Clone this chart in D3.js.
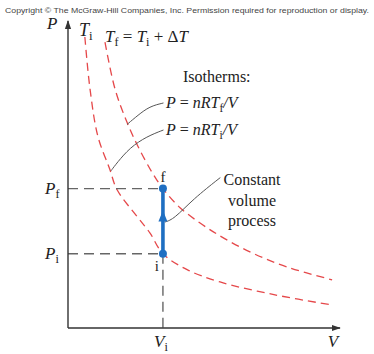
<!DOCTYPE html>
<html>
<head>
<meta charset="utf-8">
<script src="https://cdn.jsdelivr.net/npm/d3@7"></script>
<style>
  body { margin: 0; background: #fff; }
  svg { display: block; }
  .lbl { font-family: "Liberation Serif", "DejaVu Serif", serif; fill: #222; }
</style>
</head>
<body>
<svg id="chart"></svg>
<script>
// isotherm T_i, points (V, P in arbitrary units)
var isoTi = [
  [0.62, 9.48], [0.81, 7.78], [1.10, 6.24], [1.54, 5.16], [1.80, 4.51],
  [2.54, 3.63], [3.01, 3.10], [3.49, 2.42], [4.38, 1.90], [5.59, 1.50],
  [7.61, 1.08], [9.71, 0.75]
];
// isotherm T_f = T_i + dT
var isoTf = [
  [1.36, 9.31], [1.73, 7.78], [2.17, 6.70], [2.57, 5.92], [3.09, 5.07],
  [3.49, 4.54], [4.12, 3.92], [5.33, 3.14], [6.69, 2.48], [8.05, 1.99],
  [9.71, 1.57]
];
// states i and f (constant volume)
var Vi = 3.49;
var Pi = 2.42;
var Pf = 4.54;

// leader lines for the annotations
var leaderTf = [[3.51, 7.33], [3.00, 7.22], [2.57, 6.93], [2.17, 6.63]];
var leaderTi = [[3.51, 6.45], [2.90, 6.24], [2.28, 5.88], [1.80, 5.38], [1.58, 5.12]];
var leaderProc = [[5.60, 4.90], [4.60, 4.20], [3.90, 3.55], [3.56, 3.45]];

var canvasWidth = 374;
var canvasHeight = 354;
var svg = d3.select('#chart')
  .attr('width', canvasWidth)
  .attr('height', canvasHeight);

var xScale = d3.scaleLinear().domain([0, 10]).range([68, 340]);
var yScale = d3.scaleLinear().domain([0, 10]).range([328, 21]);

// small helper: text built from segments [string, 'i' italic | 'r' roman | 's' subscript]
function richText(x, y, size, segs, anchor) {
  var t = svg.append('text')
    .attr('class', 'lbl')
    .attr('x', x)
    .attr('y', y)
    .attr('font-size', size)
    .attr('text-anchor', anchor || 'start');
  var shift = 0;
  segs.forEach(function(s) {
    var sp = t.append('tspan').text(s[0]);
    if (s[1] == 'i') sp.attr('font-style', 'italic');
    if (s[1] == 's') {
      sp.attr('font-size', size * 0.72).attr('dy', 4 - shift);
      shift = 4;
    } else if (shift) {
      sp.attr('dy', -shift);
      shift = 0;
    }
  });
  return t;
}

// copyright line
svg.append('text')
  .attr('x', 5)
  .attr('y', 13)
  .attr('textLength', 364)
  .attr('lengthAdjust', 'spacingAndGlyphs')
  .attr('font-family', 'Liberation Sans, Arial, sans-serif')
  .attr('font-size', 7.8)
  .attr('fill', '#444')
  .text('Copyright \u00A9 The McGraw-Hill Companies, Inc. Permission required for reproduction or display.');

// arrow markers
var defs = svg.append('defs');
defs.append('marker')
  .attr('id', 'axisArrow')
  .attr('viewBox', '0 0 10 10')
  .attr('refX', 9).attr('refY', 5)
  .attr('markerWidth', 9).attr('markerHeight', 9)
  .attr('markerUnits', 'userSpaceOnUse')
  .attr('orient', 'auto')
  .append('path').attr('d', 'M0,1.5 L10,5 L0,8.5 Z').attr('fill', '#333');

// isotherms
var line = d3.line()
  .x(d => xScale(d[0]))
  .y(d => yScale(d[1]))
  .curve(d3.curveCatmullRom.alpha(0.5));

[isoTi, isoTf].forEach(function(pts) {
  svg.append('path')
    .attr('d', line(pts))
    .attr('fill', 'none')
    .attr('stroke', '#e5484a')
    .attr('stroke-width', 1.3)
    .attr('stroke-dasharray', '8,5');
});

// grey dashed guides
var guides = [
  [[0, Pf], [Vi, Pf]],
  [[0, Pi], [Vi, Pi]],
  [[Vi, Pi], [Vi, 0]]
];
guides.forEach(function(g) {
  svg.append('line')
    .attr('x1', xScale(g[0][0])).attr('y1', yScale(g[0][1]))
    .attr('x2', xScale(g[1][0])).attr('y2', yScale(g[1][1]))
    .attr('stroke', '#666')
    .attr('stroke-width', 1.4)
    .attr('stroke-dasharray', '10,6');
});

// axes
svg.append('line')
  .attr('x1', xScale(0)).attr('y1', yScale(0))
  .attr('x2', xScale(0)).attr('y2', yScale(10))
  .attr('stroke', '#333').attr('stroke-width', 1.4)
  .attr('marker-end', 'url(#axisArrow)');
svg.append('line')
  .attr('x1', xScale(0)).attr('y1', yScale(0))
  .attr('x2', xScale(10)).attr('y2', yScale(0))
  .attr('stroke', '#333').attr('stroke-width', 1.4)
  .attr('marker-end', 'url(#axisArrow)');

// leader lines
var leader = d3.line()
  .x(d => xScale(d[0]))
  .y(d => yScale(d[1]))
  .curve(d3.curveBasis);
[leaderTf, leaderTi, leaderProc].forEach(function(pts) {
  svg.append('path')
    .attr('d', leader(pts))
    .attr('fill', 'none')
    .attr('stroke', '#555')
    .attr('stroke-width', 1);
});

// constant volume process
var blue = '#1f6fc2';
svg.append('line')
  .attr('x1', xScale(Vi)).attr('y1', yScale(Pi))
  .attr('x2', xScale(Vi)).attr('y2', yScale(Pf))
  .attr('stroke', blue)
  .attr('stroke-width', 3.6);
var ah = yScale((Pi + Pf) / 2 + 0.25);
svg.append('path')
  .attr('d', 'M' + (xScale(Vi) - 4.5) + ',' + (ah + 8) + ' L' + xScale(Vi) + ',' + (ah - 3) +
             ' L' + (xScale(Vi) + 4.5) + ',' + (ah + 8) + ' Z')
  .attr('fill', blue);
svg.selectAll('circle.state')
  .data([Pi, Pf])
  .enter()
  .append('circle')
  .attr('class', 'state')
  .attr('cx', xScale(Vi))
  .attr('cy', d => yScale(d))
  .attr('r', 4)
  .attr('fill', blue);

// labels
richText(47, 29, 17, [['P', 'i']]);
richText(79, 36, 18, [['T', 'i'], ['i', 's']]);
richText(105, 42, 17, [['T', 'i'], ['f', 's'], [' = ', 'r'], ['T', 'i'], ['i', 's'], [' + \u0394', 'r'], ['T', 'i']]);
richText(183, 82, 16, [['Isotherms:', 'r']]);
richText(166, 108, 16, [['P', 'i'], [' = ', 'r'], ['nRT', 'i'], ['f', 's'], ['/V', 'i']]);
richText(166, 135, 16, [['P', 'i'], [' = ', 'r'], ['nRT', 'i'], ['i', 's'], ['/V', 'i']]);
richText(45, 194, 17, [['P', 'i'], ['f', 's']]);
richText(45, 259, 17, [['P', 'i'], ['i', 's']]);
richText(xScale(Vi), 182, 15, [['f', 'r']], 'middle');
richText(xScale(Vi) - 6, 271, 15, [['i', 'r']], 'middle');
richText(252, 185, 16, [['Constant', 'r']], 'middle');
richText(252, 206, 16, [['volume', 'r']], 'middle');
richText(252, 226, 16, [['process', 'r']], 'middle');
richText(xScale(Vi) - 2, 347, 17, [['V', 'i'], ['i', 's']], 'middle');
richText(333, 347, 17, [['V', 'i']], 'middle');
</script>
</body>
</html>
